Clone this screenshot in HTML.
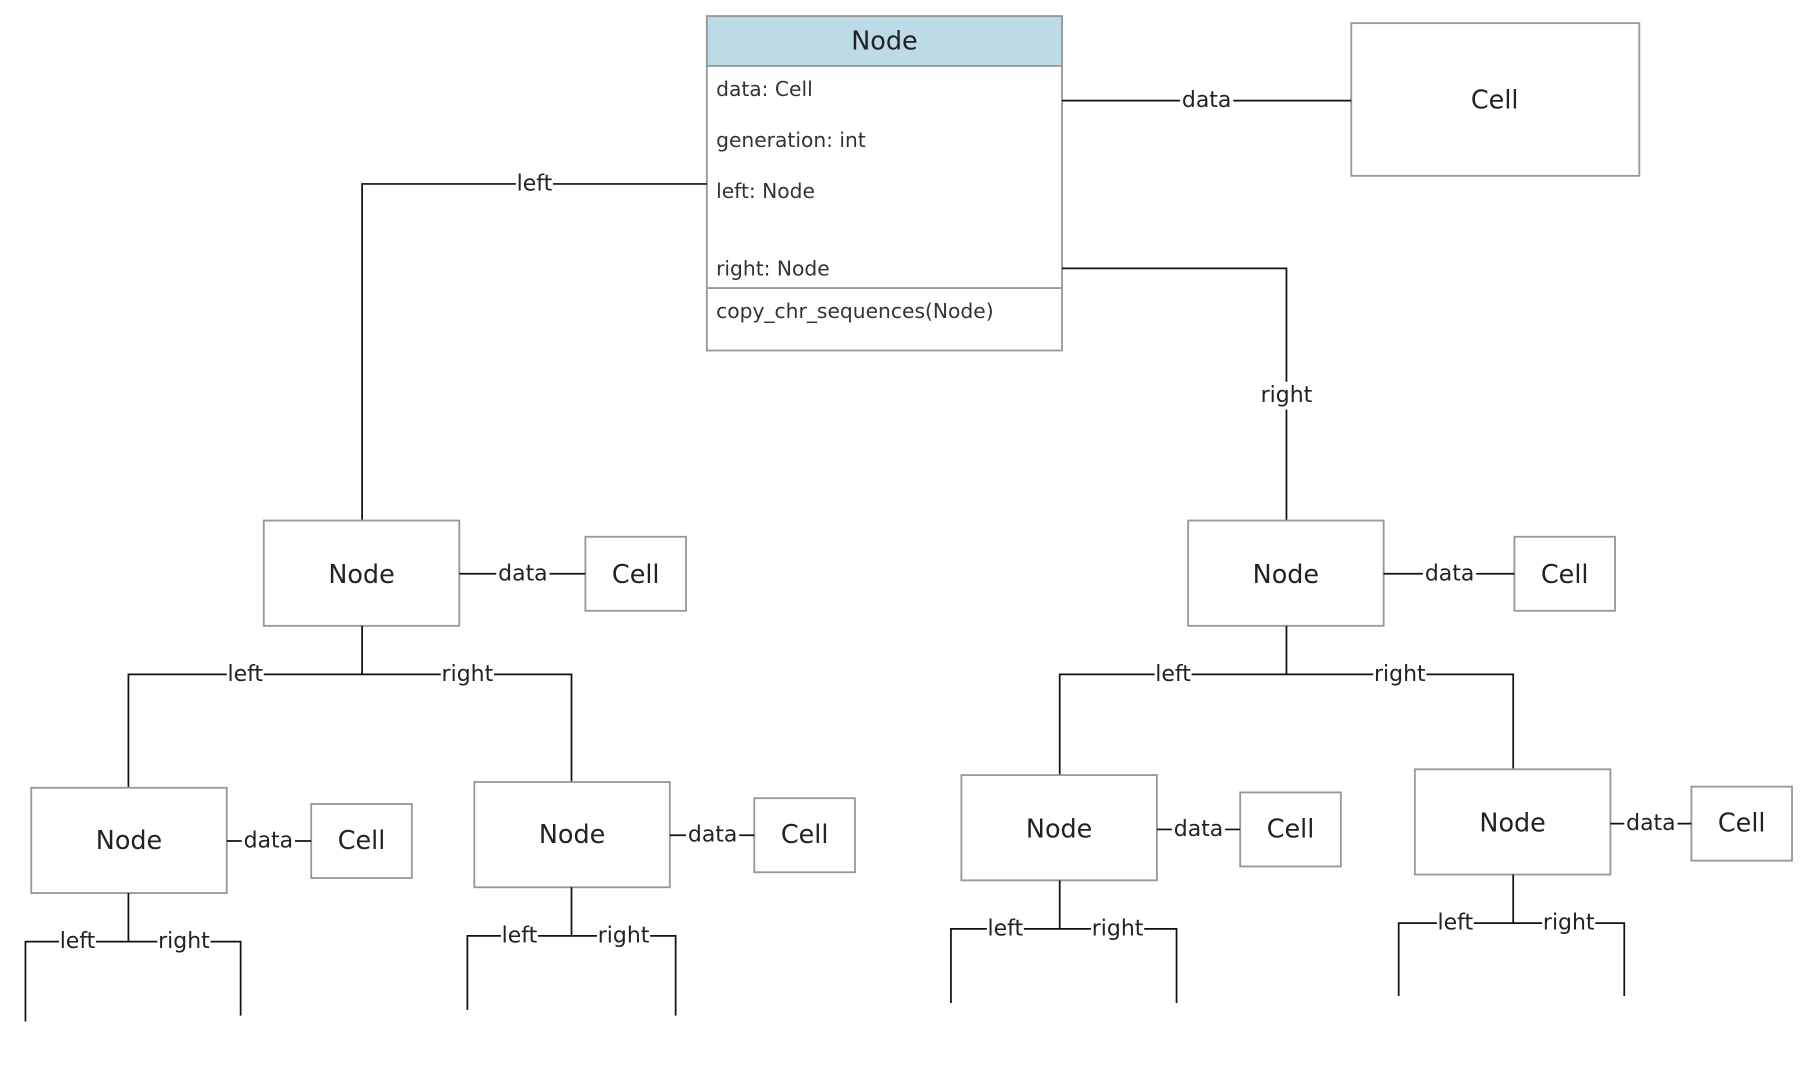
<!DOCTYPE html>
<html><head><meta charset="utf-8"><style>
html,body{margin:0;padding:0;background:#fff;}
svg{display:block;}
text{font-family:"DejaVu Sans","Liberation Sans",sans-serif;fill:#222;}
.b{fill:#fff;stroke:#999;stroke-width:1.6;}
.l{fill:none;stroke:#111;stroke-width:1.5;}
.lb{font-size:19px;text-anchor:middle;dominant-baseline:central;}
.nt{font-size:22px;text-anchor:middle;dominant-baseline:central;}
.at{font-size:17.5px;fill:#333;}
</style></head><body>
<svg width="1814" height="1080" viewBox="0 0 1568 933.6" preserveAspectRatio="none">
<rect x="611" y="14" width="307" height="289" class="b"/>
<rect x="611" y="14" width="307" height="43" fill="#bddbe6" stroke="#999" stroke-width="1.6"/>
<line x1="611" y1="249" x2="918" y2="249" stroke="#999" stroke-width="1.6"/>
<text x="764.5" y="36" class="nt">Node</text>
<text x="619" y="83" class="at">data: Cell</text>
<text x="619" y="127" class="at">generation: int</text>
<text x="619" y="171" class="at">left: Node</text>
<text x="619" y="238" class="at">right: Node</text>
<text x="619" y="275" class="at">copy_chr_sequences(Node)</text>
<rect x="1168" y="20" width="249" height="132" class="b"/>
<text x="1292" y="87" class="nt">Cell</text>
<path class="l" d="M918 87H1168"/>
<rect x="1020" y="76" width="46" height="22" fill="#fff"/><text x="1043" y="87" class="lb">data</text>
<path class="l" d="M611 159H313V450"/>
<rect x="446" y="148" width="32" height="22" fill="#fff"/><text x="462" y="159" class="lb">left</text>
<path class="l" d="M918 232H1112V450"/>
<rect x="1090" y="330" width="44" height="24" fill="#fff"/><text x="1112" y="342" class="lb">right</text>

<rect x="228" y="450" width="169" height="91" class="b"/><text x="312.5" y="497" class="nt">Node</text>
<rect x="506" y="464" width="87" height="64" class="b"/><text x="549.5" y="497" class="nt">Cell</text>
<path class="l" d="M397 496H506"/><rect x="429" y="485" width="46" height="22" fill="#fff"/><text x="452" y="496" class="lb">data</text>
<path class="l" d="M313 541V583M111 681V583H494V676"/>
<rect x="196" y="572" width="32" height="22" fill="#fff"/><text x="212" y="583" class="lb">left</text>
<rect x="381" y="572" width="46" height="22" fill="#fff"/><text x="404" y="583" class="lb">right</text>

<rect x="1027" y="450" width="169" height="91" class="b"/><text x="1111.5" y="497" class="nt">Node</text>
<rect x="1309" y="464" width="87" height="64" class="b"/><text x="1352.5" y="497" class="nt">Cell</text>
<path class="l" d="M1196 496H1309"/><rect x="1230" y="485" width="46" height="22" fill="#fff"/><text x="1253" y="496" class="lb">data</text>
<path class="l" d="M1112 541V583M916 670V583H1308V665"/>
<rect x="998" y="572" width="32" height="22" fill="#fff"/><text x="1014" y="583" class="lb">left</text>
<rect x="1187" y="572" width="46" height="22" fill="#fff"/><text x="1210" y="583" class="lb">right</text>

<g>
<rect x="27" y="681" width="169" height="91" class="b"/><text x="111.5" y="727" class="nt">Node</text>
<rect x="269" y="695" width="87" height="64" class="b"/><text x="312.5" y="727" class="nt">Cell</text>
<path class="l" d="M196 727H269"/><rect x="209" y="716" width="46" height="22" fill="#fff"/><text x="232" y="727" class="lb">data</text>
<path class="l" d="M111 772V814M22 883V814H208V878"/>
<rect x="51" y="803" width="32" height="22" fill="#fff"/><text x="67" y="814" class="lb">left</text>
<rect x="136" y="803" width="46" height="22" fill="#fff"/><text x="159" y="814" class="lb">right</text>
</g>
<g>
<rect x="410" y="676" width="169" height="91" class="b"/><text x="494.5" y="722" class="nt">Node</text>
<rect x="652" y="690" width="87" height="64" class="b"/><text x="695.5" y="722" class="nt">Cell</text>
<path class="l" d="M579 722H652"/><rect x="593" y="711" width="46" height="22" fill="#fff"/><text x="616" y="722" class="lb">data</text>
<path class="l" d="M494 767V809M404 873V809H584V878"/>
<rect x="433" y="798" width="32" height="22" fill="#fff"/><text x="449" y="809" class="lb">left</text>
<rect x="516" y="798" width="46" height="22" fill="#fff"/><text x="539" y="809" class="lb">right</text>
</g>
<g>
<rect x="831" y="670" width="169" height="91" class="b"/><text x="915.5" y="717" class="nt">Node</text>
<rect x="1072" y="685" width="87" height="64" class="b"/><text x="1115.5" y="717" class="nt">Cell</text>
<path class="l" d="M1000 717H1072"/><rect x="1013" y="706" width="46" height="22" fill="#fff"/><text x="1036" y="717" class="lb">data</text>
<path class="l" d="M916 761V803M822 867V803H1017V867"/>
<rect x="853" y="792" width="32" height="22" fill="#fff"/><text x="869" y="803" class="lb">left</text>
<rect x="943" y="792" width="46" height="22" fill="#fff"/><text x="966" y="803" class="lb">right</text>
</g>
<g>
<rect x="1223" y="665" width="169" height="91" class="b"/><text x="1307.5" y="712" class="nt">Node</text>
<rect x="1462" y="680" width="87" height="64" class="b"/><text x="1505.5" y="712" class="nt">Cell</text>
<path class="l" d="M1392 712H1462"/><rect x="1404" y="701" width="46" height="22" fill="#fff"/><text x="1427" y="712" class="lb">data</text>
<path class="l" d="M1308 756V798M1209 861V798H1404V861"/>
<rect x="1242" y="787" width="32" height="22" fill="#fff"/><text x="1258" y="798" class="lb">left</text>
<rect x="1333" y="787" width="46" height="22" fill="#fff"/><text x="1356" y="798" class="lb">right</text>
</g>
</svg>
</body></html>
